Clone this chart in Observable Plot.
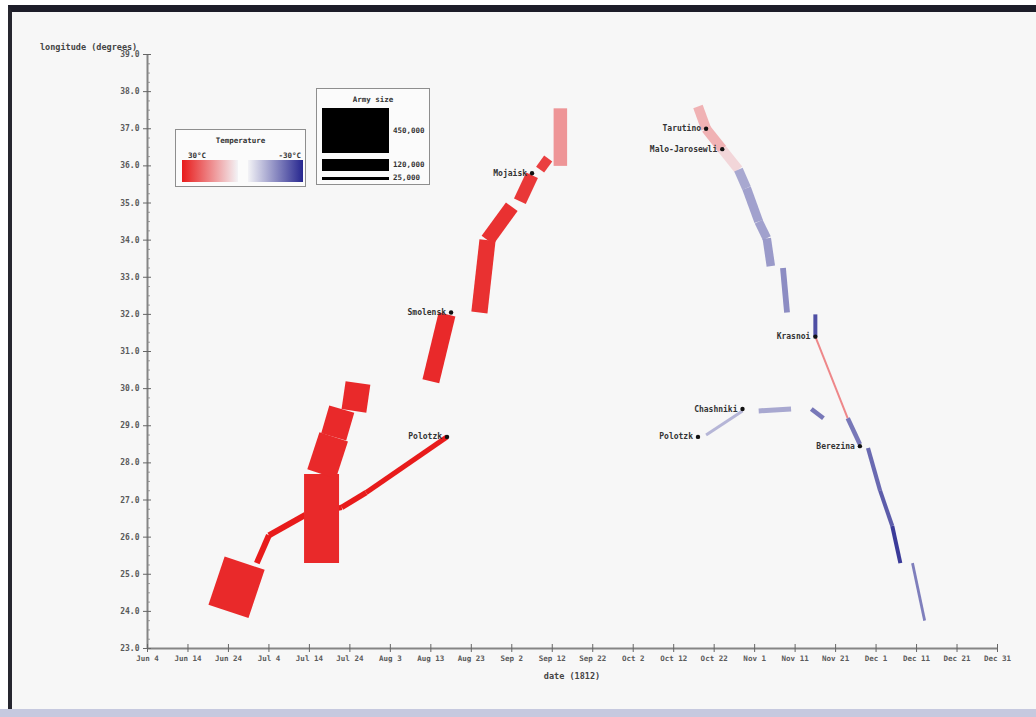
<!DOCTYPE html>
<html>
<head>
<meta charset="utf-8">
<script src="https://cdn.jsdelivr.net/npm/d3@7"></script>
<script src="https://cdn.jsdelivr.net/npm/@observablehq/plot@0.6"></script>
<style>
html,body{margin:0;padding:0;}
body{width:1036px;height:717px;overflow:hidden;position:relative;background:#ffffff;font-family:"DejaVu Sans Mono",monospace;}
#frame{position:absolute;left:8px;top:5px;width:1028px;height:704px;background:#f7f7f7;border-top:7px solid #1d1d29;border-left:4px solid #26262f;box-sizing:border-box;}
#bottomband{position:absolute;left:0;top:709px;width:1036px;height:8px;background:#c6c9df;}
#chart{position:absolute;left:0;top:0;}
.t{position:absolute;font-size:8.5px;color:#444;font-weight:bold;white-space:nowrap;}
.box{position:absolute;border:1px solid #8e8e8e;background:#fbfbfb;box-sizing:border-box;}
.box .ttl{position:absolute;left:0;right:0;text-align:center;font-size:7.5px;font-weight:bold;color:#333;}
.bar{position:absolute;}
.lab{position:absolute;font-size:7.5px;font-weight:bold;color:#333;white-space:nowrap;}
</style>
</head>
<body>
<div id="frame"></div>
<div id="bottomband"></div>
<div id="chart"></div>
<script>
// ---- path points: run id, date, longitude, survivors, temperature ----
const pathRun = [
  "n1","n1","n1","n1","n1","n1",
  "a1","a1",
  "a2","a2","a2","a2",
  "a3","a3",
  "a4","a4",
  "a5","a5","a5",
  "a6","a6",
  "a7","a7",
  "a8","a8",
  "r1","r1","r1","r1","r1","r1","r1","r1",
  "r2","r2",
  "r3","r3","r3","r3",
  "r4","r4","r4","r4",
  "r5","r5",
  "s1","s1",
  "s2","s2",
  "s3","s3"
];
const pathDate = [
  "1812-07-01","1812-07-04","1812-07-13","1812-07-22","1812-07-28","1812-08-17",
  "1812-06-24","1812-06-28",
  "1812-07-17","1812-07-17","1812-07-20","1812-07-22",
  "1812-07-25","1812-07-26",
  "1812-08-13","1812-08-17",
  "1812-08-25","1812-08-27","1812-09-02",
  "1812-09-04","1812-09-07",
  "1812-09-09","1812-09-11",
  "1812-09-14","1812-09-14",
  "1812-10-18","1812-10-20","1812-10-24","1812-10-28","1812-10-30","1812-11-02","1812-11-04","1812-11-05",
  "1812-11-08","1812-11-09",
  "1812-11-16","1812-11-16","1812-11-24","1812-11-27",
  "1812-11-29","1812-12-02","1812-12-05","1812-12-07",
  "1812-12-10","1812-12-13",
  "1812-10-20","1812-10-29",
  "1812-11-02","1812-11-10",
  "1812-11-15","1812-11-18"
];
const pathLon = [
  25.3, 26.05, 26.6, 26.8, 27.2, 28.7,
  24.0, 25.3,
  25.3, 27.7, 28.7, 29.45,
  29.4, 30.15,
  30.2, 32.0,
  32.05, 34.0, 34.9,
  35.05, 35.75,
  35.9, 36.2,
  36.0, 37.55,
  37.6, 37.0, 36.45, 35.9, 35.4, 34.5, 34.05, 33.3,
  33.25, 32.05,
  32.0, 31.4, 29.2, 28.5,
  28.4, 27.25, 26.3, 25.3,
  25.3, 23.75,
  28.75, 29.4,
  29.4, 29.45,
  29.45, 29.2
];
const pathSurvivors = [
  60000, 60000, 55000, 55000, 50000, 50000,
  422000, 400000,
  350000, 300000, 260000, 250000,
  250000, 240000,
  172000, 160000,
  162000, 145000, 140000,
  130000, 120000,
  100000, 100000,
  135000, 135000,
  100000, 100000, 96000, 92000, 90000, 88000, 85000, 80000,
  58000, 55000,
  40000, 20000, 45000, 45000,
  42000, 40000, 40000, 40000,
  28000, 28000,
  30000, 30000,
  50000, 50000,
  45000, 45000
];
const pathTemp = [
  30, 30, 30, 30, 30, 30,
  28, 28,
  28, 28, 28, 28,
  28, 28,
  28, 28,
  27, 27, 27,
  26, 26,
  25, 25,
  13, 13,
  9, 9, 4, -11, -12, -12, -13, -13,
  -15, -15,
  -24, 15, -18, -18,
  -20, -22, -27, -27,
  -17, -17,
  -9, -9,
  -11, -11,
  -18, -18
];

// ---- labelled places ----
const placeName = ["Polotzk","Smolensk","Mojaisk","Tarutino","Malo-Jarosewli","Polotzk","Chashniki","Krasnoi","Berezina"];
const placeDate = ["1812-08-17","1812-08-18","1812-09-07","1812-10-20","1812-10-24","1812-10-18","1812-10-29","1812-11-16","1812-11-27"];
const placeLon  = [28.7, 32.05, 35.8, 37.0, 36.45, 28.7, 29.45, 31.4, 28.45];

// ---- axis ticks ----
const xTickDates = ["1812-06-04","1812-06-14","1812-06-24","1812-07-04","1812-07-14","1812-07-24","1812-08-03","1812-08-13","1812-08-23","1812-09-02","1812-09-12","1812-09-22","1812-10-02","1812-10-12","1812-10-22","1812-11-01","1812-11-11","1812-11-21","1812-12-01","1812-12-11","1812-12-21","1812-12-31"];
const xTickLabels = ["Jun 4","Jun 14","Jun 24","Jul 4","Jul 14","Jul 24","Aug 3","Aug 13","Aug 23","Sep 2","Sep 12","Sep 22","Oct 2","Oct 12","Oct 22","Nov 1","Nov 11","Nov 21","Dec 1","Dec 11","Dec 21","Dec 31"];
const yTicks = [23,24,25,26,27,28,29,30,31,32,33,34,35,36,37,38,39];
const yMinorTicks = d3.range(23, 39, 0.25).filter(v => !yTicks.includes(v));

// ---- legend values ----
const tempLegendLabels = ["30°C", "-30°C"];
const sizeLegendValues = [450000, 120000, 25000];
const sizeLegendLabels = ["450,000", "120,000", "25,000"];

// ---- build tables ----
const points = pathRun.map((run, i) => ({run, date: new Date(pathDate[i]), lon: pathLon[i], n: pathSurvivors[i], temp: pathTemp[i]}));
const segments = [];
for (let i = 0; i < points.length - 1; i++) {
  const a = points[i], b = points[i + 1];
  if (a.run === b.run) segments.push({x1: a.date, y1: a.lon, x2: b.date, y2: b.lon, n: a.n, temp: a.temp});
}
const places = placeName.map((name, i) => ({name, date: new Date(placeDate[i]), lon: placeLon[i]}));
const xTicks = xTickDates.map((d, i) => ({date: new Date(d), label: xTickLabels[i]}));
const widthOf = n => n / 10000;

const W = 1036, H = 717;
const mL = 147, mR = 39, mT = 54, mB = 69;
const frameW = W - mL - mR, frameH = H - mT - mB;
const axisColor = "#858585";
const font = "DejaVu Sans Mono";

const plot = Plot.plot({
  width: W,
  height: H,
  marginLeft: mL, marginRight: mR, marginTop: mT, marginBottom: mB,
  style: {background: "transparent", fontFamily: font, overflow: "visible"},
  x: {type: "utc", domain: [xTicks[0].date, xTicks[xTicks.length - 1].date], axis: null},
  y: {domain: [yTicks[0], yTicks[yTicks.length - 1]], axis: null},
  color: {type: "linear", domain: [-30, 0, 30], range: ["#26268f", "#f3f3f6", "#e81b1b"]},
  marks: [
    // axis lines
    Plot.ruleX([xTicks[0].date], {stroke: axisColor, strokeWidth: 2}),
    Plot.ruleY([yTicks[0]], {stroke: axisColor, strokeWidth: 2}),
    // tick marks
    Plot.ruleY(yTicks, {stroke: "#666", strokeWidth: 1, insetLeft: -4, insetRight: frameW - 4}),
    Plot.ruleY(yMinorTicks, {stroke: "#888", strokeWidth: 0.8, insetLeft: 0, insetRight: frameW - 3}),
    Plot.ruleX(xTicks, {x: "date", stroke: "#666", strokeWidth: 1, insetTop: frameH - 4, insetBottom: -4}),
    // tick labels
    Plot.text(yTicks, {y: d => d, frameAnchor: "left", dx: -8, textAnchor: "end", text: d => d.toFixed(1), fontSize: 8, fontWeight: "bold", fill: "#5a5a5a"}),
    Plot.text(xTicks, {x: "date", frameAnchor: "bottom", dy: 12, text: "label", fontSize: 7.5, fontWeight: "bold", fill: "#5a5a5a"}),
    // army path
    Plot.link(segments, {x1: "x1", y1: "y1", x2: "x2", y2: "y2", stroke: "temp", strokeWidth: d => widthOf(d.n), strokeLinecap: "butt", curve: "linear"}),
    // places
    Plot.dot(places, {x: "date", y: "lon", r: 2.2, fill: "#111", stroke: "none"}),
    Plot.text(places, {x: "date", y: "lon", text: "name", textAnchor: "end", dx: -5, fontSize: 8, fontWeight: "bold", fill: "#333"})
  ]
});
document.getElementById("chart").appendChild(plot);

// ---- titles ----
function addText(txt, left, top, cls, extra) {
  const d = document.createElement("div");
  d.className = cls; d.textContent = txt;
  d.style.left = left + "px"; d.style.top = top + "px";
  if (extra) Object.assign(d.style, extra);
  document.body.appendChild(d);
  return d;
}
addText("longitude (degrees)", 40, 42, "t");
addText("date (1812)", 572, 671, "t", {transform: "translateX(-50%)"});

// ---- temperature legend ----
const tBox = document.createElement("div");
tBox.className = "box";
Object.assign(tBox.style, {left: "175px", top: "129px", width: "131px", height: "58px"});
tBox.innerHTML = '<div class="ttl" style="top:6px">Temperature</div>';
const cs = plot.scale("color");
const cscale = d3.scaleLinear().domain(cs.domain).range(cs.range);
const redBar = document.createElement("div");
redBar.className = "bar";
Object.assign(redBar.style, {left: "6px", top: "30px", width: "56px", height: "22px",
  background: `linear-gradient(to right, ${cscale(30)}, ${cscale(0)})`});
const blueBar = document.createElement("div");
blueBar.className = "bar";
Object.assign(blueBar.style, {left: "72px", top: "30px", width: "55px", height: "22px",
  background: `linear-gradient(to right, ${cscale(0)}, ${cscale(-30)})`});
tBox.appendChild(redBar); tBox.appendChild(blueBar);
const l1 = document.createElement("div"); l1.className = "lab"; l1.textContent = tempLegendLabels[0];
Object.assign(l1.style, {left: "12px", top: "21px"});
const l2 = document.createElement("div"); l2.className = "lab"; l2.textContent = tempLegendLabels[1];
Object.assign(l2.style, {right: "4px", top: "21px"});
tBox.appendChild(l1); tBox.appendChild(l2);
document.body.appendChild(tBox);

// ---- army size legend ----
const sBox = document.createElement("div");
sBox.className = "box";
Object.assign(sBox.style, {left: "316px", top: "88px", width: "114px", height: "97px"});
sBox.innerHTML = '<div class="ttl" style="top:6px">Army size</div>';
let yCursor = 19;
sizeLegendValues.forEach((v, i) => {
  const h = widthOf(v);
  const b = document.createElement("div");
  b.className = "bar";
  Object.assign(b.style, {left: "5px", top: yCursor + "px", width: "67px", height: h + "px", background: "#000"});
  sBox.appendChild(b);
  const lb = document.createElement("div");
  lb.className = "lab"; lb.textContent = sizeLegendLabels[i];
  Object.assign(lb.style, {left: "76px", top: (yCursor + h / 2 - 5) + "px"});
  sBox.appendChild(lb);
  yCursor += h + 6;
});
document.body.appendChild(sBox);
</script>
</body>
</html>
